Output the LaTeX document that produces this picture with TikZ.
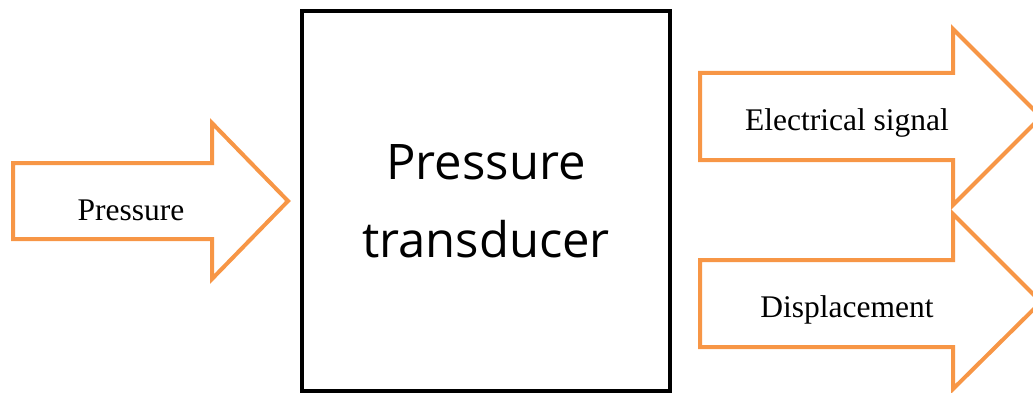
\documentclass[tikz,border=0pt]{standalone}
\usepackage{fontspec}
\setmainfont{Liberation Serif}
\newfontfamily\boxfont{Open Sans}
\definecolor{arroworange}{HTML}{F79646}
\tikzset{
	blockarrow/.style={draw=arroworange, line width=4pt, fill=white, line join=miter},
	arrowlabel/.style={anchor=base, inner sep=0pt, font=\fontsize{31.5}{36}\selectfont},
}
\begin{document}
\begin{tikzpicture}[x=1pt, y=-1pt]
	\useasboundingbox (0,0) rectangle (1033,393);
	\clip (0,0) rectangle (1033,393);
	
	% 左侧输入箭头
	\draw[blockarrow] (13,163) -- (212,163) -- (212,123) -- (288,201) -- (212,279) -- (212,239) -- (13,239) -- cycle;
	\node[arrowlabel] (pin) at (131,220) {Pressure};
	
	% 中间的方框
	\node[draw, line width=4.5pt, minimum width=368pt, minimum height=380pt, align=center,
		font=\boxfont\fontsize{49}{78}\selectfont] (box) at (486,201) {Pressure\\transducer};
	
	% 右侧两个输出箭头
	\draw[blockarrow] (700,73) -- (953,73) -- (953,29) -- (1041,117) -- (953,205) -- (953,160) -- (700,160) -- cycle;
	\node[arrowlabel] (sig) at (847,131) {Electrical signal};
	
	\draw[blockarrow] (700,260) -- (953,260) -- (953,214) -- (1041,302) -- (953,389) -- (953,347) -- (700,347) -- cycle;
	\node[arrowlabel] (disp) at (847,317) {Displacement};
\end{tikzpicture}
\end{document}
